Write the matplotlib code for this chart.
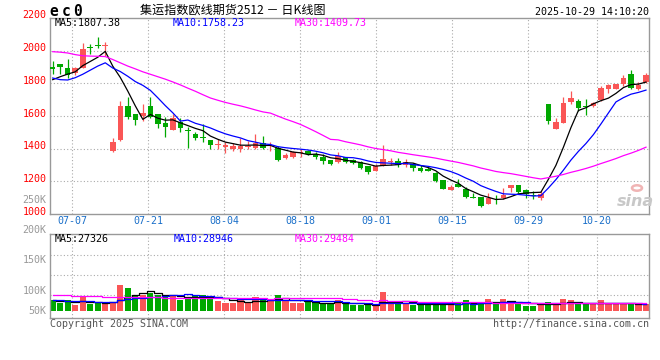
import matplotlib
matplotlib.use("Agg")
import matplotlib.pyplot as plt
import matplotlib.transforms as mtrans
from matplotlib.patches import Rectangle, Circle
import numpy as np

plt.rcParams['font.family'] = ['DejaVu Sans Mono']

# ---------------- data ----------------
opens = [1902, 1918, 1893, 1860, 1895, 2019, 2034, 2026, 1386, 1453,
         1663, 1612, 1600, 1661, 1612, 1559, 1514, 1561, 1512, 1492,
         1470, 1451, 1420, 1410, 1400, 1396, 1408, 1406, 1433, 1414,
         1404, 1343, 1349, 1372, 1388, 1366, 1349, 1331, 1319, 1347,
         1331, 1317, 1292, 1264, 1294, 1321, 1325, 1298, 1304, 1282,
         1278, 1249, 1206, 1147, 1182, 1151, 1106, 1108, 1062, 1100,
         1096, 1159, 1176, 1147, 1116, 1098, 1672, 1521, 1557, 1686,
         1690, 1661, 1661, 1696, 1763, 1763, 1794, 1859, 1767, 1808]
closes = [1886, 1898, 1852, 1895, 2007, 2014, 2027, 2031, 1443, 1663,
          1596, 1576, 1620, 1592, 1549, 1535, 1586, 1529, 1508, 1463,
          1466, 1421, 1429, 1423, 1417, 1419, 1419, 1437, 1406, 1421,
          1331, 1361, 1380, 1382, 1366, 1347, 1323, 1306, 1353, 1319,
          1315, 1282, 1259, 1294, 1339, 1325, 1298, 1317, 1282, 1264,
          1264, 1200, 1153, 1164, 1164, 1104, 1102, 1049, 1098, 1097,
          1115, 1176, 1135, 1123, 1113, 1123, 1570, 1561, 1678, 1710,
          1649, 1655, 1682, 1772, 1788, 1794, 1833, 1772, 1788, 1849]
highs = [1937, 1920, 1948, 1897, 2044, 2039, 2084, 2054, 1463, 1692,
         1718, 1614, 1672, 1718, 1614, 1592, 1610, 1586, 1531, 1504,
         1553, 1451, 1459, 1439, 1435, 1468, 1449, 1488, 1476, 1439,
         1414, 1374, 1384, 1396, 1392, 1380, 1366, 1331, 1380, 1351,
         1339, 1325, 1292, 1308, 1421, 1343, 1345, 1335, 1310, 1298,
         1288, 1257, 1212, 1180, 1216, 1166, 1131, 1108, 1131, 1119,
         1162, 1180, 1180, 1155, 1143, 1139, 1672, 1590, 1714, 1751,
         1702, 1702, 1686, 1782, 1798, 1798, 1853, 1880, 1806, 1865]
lows = [1855, 1855, 1830, 1850, 1893, 1980, 2013, 1965, 1378, 1450,
        1582, 1545, 1570, 1586, 1525, 1474, 1512, 1500, 1406, 1453,
        1441, 1400, 1400, 1376, 1386, 1380, 1396, 1400, 1400, 1388,
        1323, 1335, 1343, 1349, 1360, 1335, 1306, 1298, 1315, 1315,
        1306, 1274, 1245, 1264, 1294, 1298, 1290, 1288, 1264, 1255,
        1261, 1196, 1153, 1147, 1164, 1098, 1098, 1043, 1062, 1064,
        1090, 1135, 1130, 1098, 1094, 1088, 1549, 1521, 1557, 1676,
        1631, 1608, 1655, 1690, 1741, 1763, 1784, 1763, 1757, 1802]
volumes = [44800, 30800, 44800, 23800, 58800, 28000, 30800, 30800, 30800, 107800,
           95200, 64400, 64400, 75600, 65800, 58800, 61600, 44800, 57400, 65800,
           65800, 56000, 40600, 32200, 32200, 44800, 32200, 58800, 44800, 44800,
           65800, 43400, 32200, 32200, 36400, 32200, 32200, 32200, 43400, 29400,
           25200, 22400, 22400, 26600, 78400, 30800, 30800, 28000, 25200, 25200,
           26600, 36400, 23800, 26600, 36400, 44800, 26600, 36400, 49000, 26600,
           49000, 40600, 26600, 21000, 21000, 26600, 36400, 26600, 47600, 44800,
           26600, 26600, 26600, 44800, 33600, 26600, 26600, 26600, 26600, 26600]

ma5_head = [1822, 1840, 1856, 1870]
ma10_head = [1832, 1822, 1820, 1834, 1855, 1880, 1905, 1925, 1893]
ma30_head = [1993, 1990, 1985, 1975, 1968, 1966, 1965, 1963, 1945, 1925,
             1905, 1888, 1870, 1855, 1840, 1825, 1808, 1790, 1770, 1751,
             1730, 1710, 1696, 1683, 1672, 1662, 1650, 1637, 1625]
vma5_head = [44000, 41000, 39000, 38000]
vma10_head = [43000, 43000, 42000, 41000, 40000, 39000, 38000, 38000, 38000]
vma30_head = [66000, 66000, 66000, 62000, 62000, 62000, 60000, 59000, 58000, 58000,
              57000, 57000, 56000, 56000, 56000, 55000, 55000, 55000, 54000, 54000,
              54000, 54000, 53000, 53000, 53000, 52000, 52000, 52000, 52000]

date_labels = ['07-07', '07-21', '08-04', '08-18', '09-01', '09-15', '09-29', '10-20']
date_index = [3, 13, 23, 33, 43, 53, 63, 72]
price_ticks = [2200, 2000, 1800, 1600, 1400, 1200, 1000]
vol_labels = ['200K', '150K', '100K', '50K']

symbol = 'ec0'
title = '集运指数欧线期货2512 － 日K线图'
stamp = '2025-10-29 14:10:20'
ma_texts = ['MA5:1807.38', 'MA10:1758.23', 'MA30:1409.73']
vma_texts = ['MA5:27326', 'MA10:28946', 'MA30:29484']
copyright_text = 'Copyright 2025 SINA.COM'
url_text = 'http://finance.sina.com.cn'

# ---------------- helpers ----------------
def moving_average(vals, n, head):
    out = []
    for i in range(len(vals)):
        if i < n - 1:
            out.append(head[i])
        else:
            out.append(float(np.mean(vals[i - n + 1:i + 1])))
    return out

ma5 = moving_average(closes, 5, ma5_head)
ma10 = moving_average(closes, 10, ma10_head)
ma30 = moving_average(closes, 30, ma30_head)
vma5 = moving_average(volumes, 5, vma5_head)
vma10 = moving_average(volumes, 10, vma10_head)
vma30 = moving_average(volumes, 30, vma30_head)

RED = '#fa5656'
GREEN = '#00a800'
GRIDC = '#aaaaaa'
FRAME = '#999999'
DOT = (0, (1, 2))

W, H = 660, 360
fig = plt.figure(figsize=(W / 100, H / 100), dpi=100)
fig.patch.set_facecolor('white')

def box(l, t, r, b):
    return [l / W, 1 - b / H, (r - l) / W, (b - t) / H]

n = len(closes)
x = np.arange(n)
slot = 7.51
x0 = 52.7
xlim = (-(x0 - 50) / slot, (649 - x0) / slot)
# Sina's grid lines drift slightly relative to the candle slots
grid_x = [d * 1.0119 - 0.425 for d in date_index]

ax = fig.add_axes(box(50, 17.8, 649, 214.2))
axv = fig.add_axes(box(50, 234.3, 649, 317.7))

for a in (ax, axv):
    a.set_xlim(*xlim)
    a.set_xticks([])
    a.set_yticks([])
    for s in a.spines.values():
        s.set_color(FRAME)
        s.set_linewidth(1.0)
    for gx in grid_x:
        a.axvline(gx, color=GRIDC, lw=0.8, ls=DOT, zorder=0)

ax.set_ylim(1000, 2200)
for v in price_ticks[1:-1]:
    ax.axhline(v, color=GRIDC, lw=0.8, ls=DOT, zorder=0)

# candles
for i in range(n):
    o, c, h, l = opens[i], closes[i], highs[i], lows[i]
    col = RED if c >= o else GREEN
    ax.plot([i, i], [l, h], color=col, lw=0.9, zorder=2, solid_capstyle='butt')
    bh = max(abs(c - o), 5)
    ax.add_patch(Rectangle((i - 0.37, min(o, c)), 0.74, bh, facecolor=col,
                           edgecolor='none', zorder=3))

ax.plot(x, ma5, color='black', lw=0.9, zorder=4)
ax.plot(x, ma10, color='#0000ff', lw=0.9, zorder=4)
ax.plot(x, ma30, color='#ff00ff', lw=0.9, zorder=4)

# volume panel: 0 at y=310.7px, ~4200 per pixel
vpp = 4200.0
axv.set_ylim(-(317.7 - 310.7) * vpp, (310.7 - 234.3) * vpp)
for ypx in (255.3, 275.3, 295.3):
    f = (317.7 - ypx) / (317.7 - 234.3)
    axv.plot([0, 1], [f, f], transform=axv.transAxes, color=GRIDC, lw=0.8, ls=DOT, zorder=0)
vcols = [RED if closes[i] >= opens[i] else GREEN for i in range(n)]
axv.bar(x, volumes, width=0.82, color=vcols, zorder=2)
axv.plot(x, vma5, color='black', lw=0.9, drawstyle='steps-mid', zorder=3)
axv.plot(x, vma10, color='#0000ff', lw=0.9, drawstyle='steps-mid', zorder=3)
axv.plot(x, vma30, color='#ff00ff', lw=0.9, drawstyle='steps-mid', zorder=3)

FS = 7.2  # ~10px

def ftext(xp, yp, s, **kw):
    fig.text(xp / W, 1 - yp / H, s, **kw)

# price labels (slightly above their grid lines)
trans = mtrans.blended_transform_factory(fig.transFigure, ax.transData) + \
    mtrans.ScaledTranslation(0, 2.3 / 100, fig.dpi_scale_trans)
for v in price_ticks:
    ax.text(46.5 / W, v, str(v), transform=trans, ha='right', va='center',
            color='#ff0000', fontsize=FS, clip_on=False)

ftext(46.5, 200, '250K', ha='right', va='center', color='#999999', fontsize=FS)
for lab, yp in zip(vol_labels, (230.5, 260, 290.5, 310.5)):
    ftext(46.5, yp, lab, ha='right', va='center', color='#999999', fontsize=FS)

# date labels
dtrans = mtrans.blended_transform_factory(ax.transData, fig.transFigure)
for gx, lab in zip(grid_x, date_labels):
    ax.text(gx, 1 - 221 / H, lab, transform=dtrans, ha='center', va='center',
            color='#1a6fc9', fontsize=FS, clip_on=False)

# header
for ch, xp in zip(symbol, (54, 66, 77)):
    ftext(xp, 11.0, ch, ha='center', va='center', fontsize=10.5, fontweight='bold', color='black')
ftext(140, 10.5, title, ha='left', va='center', fontsize=8.7,
      family=['Noto Sans CJK SC', 'DejaVu Sans'], color='black')
ftext(649, 11.7, stamp, ha='right', va='center', fontsize=FS, color='black')

for s, xp, col in zip(ma_texts, (55, 173, 295), ('black', '#0000ff', '#ff00ff')):
    ftext(xp, 23.3, s, ha='left', va='center', fontsize=FS, color=col)
for s, xp, col in zip(vma_texts, (55, 174, 295), ('black', '#0000ff', '#ff00ff')):
    ftext(xp, 239, s, ha='left', va='center', fontsize=FS, color=col)

ftext(50, 323.8, copyright_text, ha='left', va='center', fontsize=FS, color='#555555')
ftext(649, 323.8, url_text, ha='right', va='center', fontsize=FS, color='#555555')

# sina watermark
ftext(635, 201, 'sina', ha='center', va='center', fontsize=11.5, fontweight='bold',
      style='italic', family=['DejaVu Sans'], color='#c8c8c8')
fig.patches.append(Circle((637 / W, 1 - 188 / H), 5 / W, transform=fig.transFigure,
                          facecolor='none', edgecolor='#f0b4b4', lw=1.8))

fig.savefig('out.png', dpi=100)
